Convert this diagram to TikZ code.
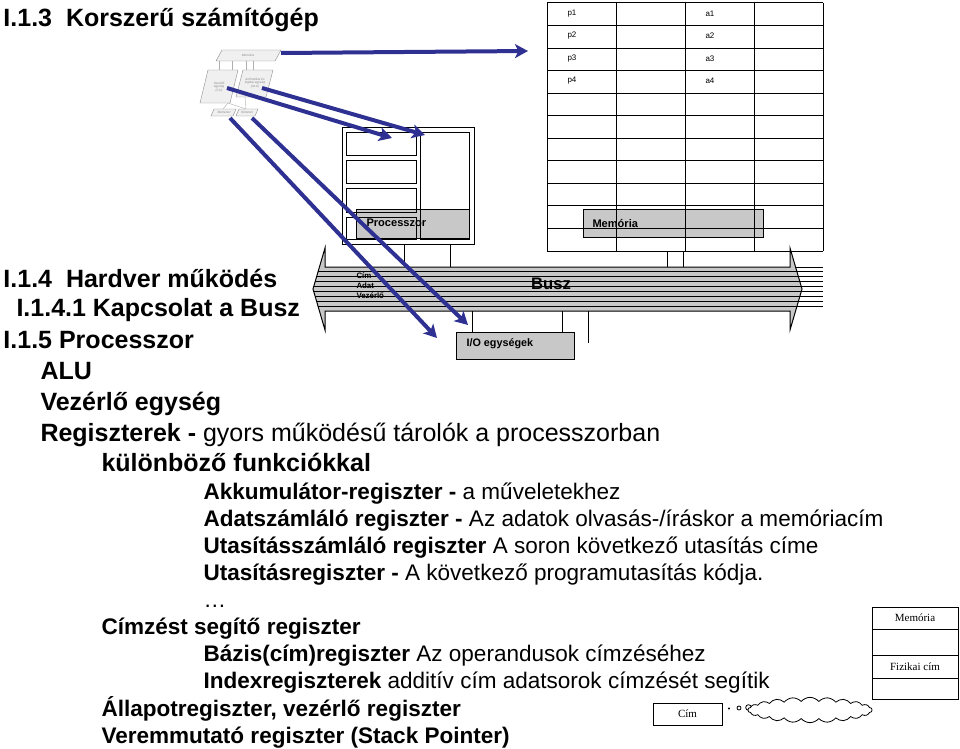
\documentclass[tikz,border=0pt]{standalone}
\usepackage{fontspec}
\setmainfont{Liberation Sans}
\newfontfamily\cimserif{Liberation Serif}
\usetikzlibrary{arrows.meta,shapes.symbols,positioning}

\definecolor{arrowblue}{RGB}{46,49,146}
\definecolor{busgray}{RGB}{200,200,200}
\definecolor{thumbgray}{RGB}{140,140,140}
\definecolor{thumbfill}{RGB}{240,240,240}

\tikzset{every picture/.style={line width=0.75pt}}

\begin{document}
\begin{tikzpicture}[
            x=0.75pt,
            y=0.75pt,
            yscale=-1,
            xscale=1,
            every node/.style={text=black},
            line width=0.75pt,
            grayblock/.style={draw=black,fill=busgray},
            headtext/.style={anchor=base west,inner sep=0pt,font=\fontsize{18.75}{22}\selectfont\bfseries},
            itemtext/.style={anchor=base west,inner sep=0pt,font=\fontsize{16.9}{20}\selectfont},
            boxlabel/.style={anchor=west,inner sep=0.75pt,font=\fontsize{8.3}{10}\selectfont\bfseries},
            celltext/.style={anchor=west,inner sep=0.75pt,font=\fontsize{6}{7}\selectfont},
            buslabel/.style={anchor=west,inner sep=0pt,font=\fontsize{5.9}{6}\selectfont\bfseries},
            serifbox/.style={inner sep=0.75pt,font=\fontsize{8.25}{10}\cimserif},
            thumbbox/.style={draw=thumbgray,fill=thumbfill,line width=0.3pt},
            thumbline/.style={draw=thumbgray!70,line width=0.3pt},
            thumbtext/.style={text=thumbgray,font=\fontsize{2.4}{2.8}\selectfont\itshape,align=center,inner sep=0pt},
            bluearrow/.style={draw=arrowblue,line width=3pt,-{Stealth[length=9.75pt,width=10.5pt,inset=2.5pt]}}
        ]
            \useasboundingbox (0,0) rectangle (960,749);

            % memoria tabla
            \fill[busgray] (583,209) rectangle (763,237);
            \foreach \row in {0,...,11}
                \draw (547,{3+\row*22.55}) -- (823,{3+\row*22.55});
            \foreach \col in {547,616,685,754,823}
                \draw (\col,3) -- (\col,251);
            \draw (583,209) rectangle (763,237);
            \node[boxlabel] (memlabel) at (591,223) {Memória};
            \foreach \i/\y in {1/14,2/36,3/59,4/81} {
                \node[celltext] (p\i) at (566,\y) {p\i};
                \node[celltext] (a\i) at (704,\y) {a\i};
            }

            % processzor
            \draw (342,127) rectangle (474,244);
            \fill[busgray] (356,209) rectangle (469,238);
            \draw (346,132) rectangle (416,155);
            \draw (346,160) rectangle (416,183);
            \draw (346,188) rectangle (416,212);
            \draw (346,217) rectangle (416,239);
            \draw (420,132) rectangle (469,239);
            \draw (356,209) rectangle (469,238);
            \node[boxlabel] (proclabel) at (365,223) {Processzor};

            % busz
            \fill[busgray] (313,289) -- (325,248) -- (325,267) -- (790,267) -- (790,248) -- (802,289) -- (790,330) -- (790,311) -- (325,311) -- (325,330) -- cycle;
            \begin{scope}
                \clip (313,289) -- (325,248) -- (325,267) -- (790,267) -- (790,248) -- (802,289) -- (790,330) -- (790,311) -- (325,311) -- (325,330) -- cycle;
                \foreach \k in {1,...,8}
                    \draw (300,{267+\k*4.9}) -- (823,{267+\k*4.9});
            \end{scope}
            \foreach \k in {0,...,8}
                \draw (795,{267+\k*4.9}) -- (823,{267+\k*4.9});
            \draw (313,289) -- (325,248) -- (325,267) -- (790,267) -- (790,248) -- (802,289) -- (790,330) -- (790,311) -- (325,311) -- (325,330) -- cycle;
            \node[buslabel] (cim) at (356,276) {Cím};
            \node[buslabel] (adat) at (356,286) {Adat};
            \node[buslabel] (vez) at (356,296) {Vezérlő};
            \node[font=\fontsize{12.5}{14}\selectfont\bfseries,inner sep=0pt] (busz) at (551,284) {Busz};

            % csatlakozasok
            \draw (404,244) -- (404,267);
            \draw (450,244) -- (450,267);
            \draw (667,251) -- (667,267);
            \draw (683,251) -- (683,267);
            \draw (472,311) -- (472,332);
            \draw (562,311) -- (562,332);
            \draw (588,311) -- (588,343);

            % I/O
            \draw[grayblock] (456,332) rectangle (574,359);
            \node[boxlabel,font=\fontsize{8.1}{10}\selectfont\bfseries] (iolabel) at (465,344) {I/O egységek};

            % kis abra
            \draw[thumbline] (219,61) -- (219,70);
            \draw[thumbline] (232,61) -- (232,70);
            \draw[thumbline] (246,61) -- (246,70);
            \draw[thumbline] (253,61) -- (253,70);
            \draw[thumbline] (228,103) -- (223,109);
            \draw[thumbline] (228,103) -- (246,109);
            \draw[thumbline] (245,97) -- (246,109);
            \draw[thumbbox] (216,61) -- (222,50) -- (281,50) -- (275,61) -- cycle;
            \draw[thumbbox] (200,103) -- (208,70) -- (238,70) -- (230,103) -- cycle;
            \draw[thumbbox] (236,97) -- (243,70) -- (273,70) -- (266,97) -- cycle;
            \draw[thumbbox] (211,116) -- (214,109) -- (236,109) -- (233,116) -- cycle;
            \draw[thumbbox] (236,116) -- (239,109) -- (258,109) -- (255,116) -- cycle;
            \node[thumbtext] (thmem) at (248,55.5) {Memória};
            \node[thumbtext] (thcu) at (219,87) {Vezérlő\\egység\\(CU)};
            \node[thumbtext] (thalu) at (255,83) {Aritmetikai és\\logikai egység\\(ALU)};
            \node[thumbtext] (thin) at (224,112.5) {Bemenet};
            \node[thumbtext] (thout) at (247,112.5) {Kimenet};

            % nyilak
            \coordinate (memfrom) at (281,53);
            \coordinate (cufrom) at (227,88);
            \coordinate (alufrom) at (262,88);
            \coordinate (infrom) at (230,118);
            \coordinate (outfrom) at (252,118);
            \coordinate (memto) at (528,51);
            \coordinate (cuto) at (392,138);
            \coordinate (aluto) at (425,135);
            \coordinate (into) at (437,338);
            \coordinate (outto) at (468,325);
            \draw[bluearrow] (memfrom) -- (memto);
            \draw[bluearrow] (cufrom) -- (cuto);
            \draw[bluearrow] (alufrom) -- (aluto);
            \draw[bluearrow] (infrom) -- (into);
            \draw[bluearrow] (outfrom) -- (outto);

            % szoveg
            \node[headtext] (t13) at (3,27) {I.1.3\ \ Korszerű számítógép};
            \node[headtext] (t14) at (3,287) {I.1.4\ \ Hardver működés};
            \node[headtext] (t141) at (16,316) {I.1.4.1 Kapcsolat a Busz};
            \node[headtext] (t15) at (3,348) {I.1.5 Processzor};
            \node[headtext] (alu) at (40,379) {ALU};
            \node[headtext] (vezerlo) at (40,410) {Vezérlő egység};
            \node[headtext] (regiszterek) at (40,441) {Regiszterek - \mdseries gyors működésű tárolók a processzorban};
            \node[headtext] (funkciok) at (101,471) {különböző funkciókkal};
            \node[itemtext] (akku) at (203,499) {\textbf{Akkumulátor-regiszter -} a műveletekhez};
            \node[itemtext] (adatsz) at (203,526) {\textbf{Adatszámláló regiszter -} Az adatok olvasás-/íráskor a memóriacím};
            \node[itemtext] (utsz) at (203,553) {\textbf{Utasításszámláló regiszter} A soron következő utasítás címe};
            \node[itemtext] (utreg) at (203,580) {\textbf{Utasításregiszter -} A következő programutasítás kódja.};
            \node[itemtext] (dots) at (203,607) {…};
            \node[itemtext,font=\fontsize{16.9}{20}\selectfont\bfseries] (cimzes) at (101,634) {Címzést segítő regiszter};
            \node[itemtext] (bazis) at (203,661) {\textbf{Bázis(cím)regiszter} Az operandusok címzéséhez};
            \node[itemtext] (index) at (203,688) {\textbf{Indexregiszterek} additív cím adatsorok címzését segítik};
            \node[itemtext,font=\fontsize{16.9}{20}\selectfont\bfseries] (allapot) at (101,716) {Állapotregiszter, vezérlő regiszter};
            \node[itemtext,font=\fontsize{16.9}{20}\selectfont\bfseries] (verem) at (101,743) {Veremmutató regiszter (Stack Pointer)};

            % cimzes abra
            \draw (872,607) rectangle (958,699);
            \draw (872,629) -- (958,629);
            \draw (872,655) -- (958,655);
            \draw (872,678) -- (958,678);
            \node[serifbox] (memcell) at (915,618) {Memória};
            \node[serifbox] (fizcim) at (915,666.5) {Fizikai cím};
            \draw (653,703) rectangle (722,725);
            \node[serifbox] (cimbox) at (687.5,714) {Cím};
            \fill (729,708.5) circle (1.2);
            \draw[line width=0.6pt] (739,708) circle (2);
            \draw[line width=0.6pt] (748.5,707.5) circle (2.8);
            \node[cloud,draw,fill=white,cloud puffs=22,cloud puff arc=100,aspect=5,minimum width=93pt,minimum height=19pt,inner sep=0pt,line width=0.6pt] (felho) at (810,710) {};
        \end{tikzpicture}
\end{document}
